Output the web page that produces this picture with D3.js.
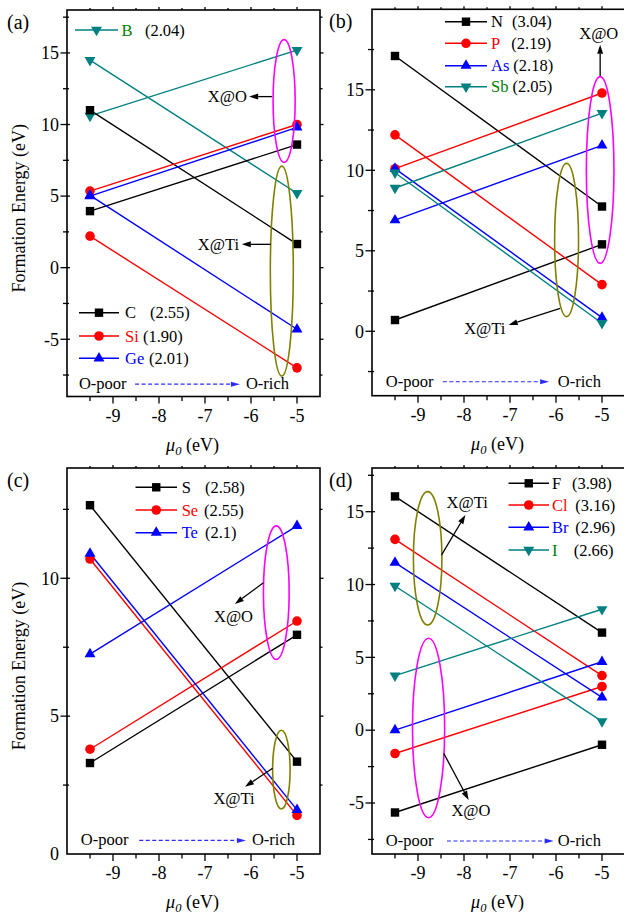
<!DOCTYPE html>
<html><head><meta charset="utf-8">
<script src="https://cdn.jsdelivr.net/npm/d3@7"></script>
<style>
html,body{margin:0;padding:0;background:#fff;}
</style></head>
<body><svg id="chart" width="624" height="915" font-family="'Liberation Serif', 'Times New Roman', Tinos, 'DejaVu Serif', serif"></svg>
<script>
// ---------------- DATA ----------------
const xPoints = [-9.5, -5];
const xTicks = [-9, -8, -7, -6, -5];

// panel (a)
const aNames = ["B", "C", "Si", "Ge"];
const aEN = ["(2.04)", "(2.55)", "(1.90)", "(2.01)"];
const aTi = [[14.5, 5.2], [11.0, 1.65], [2.2, -7.0], [5.05, -4.3]];
const aO  = [[10.6, 15.2], [3.95, 8.6], [5.35, 10.0], [5.0, 9.8]];
const aYTicks = [-5, 0, 5, 10, 15];

// panel (b)
const bNames = ["N", "P", "As", "Sb"];
const bEN = ["(3.04)", "(2.19)", "(2.18)", "(2.05)"];
const bTi = [[17.1, 7.75], [12.2, 2.9], [10.1, 0.85], [9.85, 0.5]];
const bO  = [[0.7, 5.4], [10.1, 14.8], [6.9, 11.55], [8.9, 13.55]];
const bYTicks = [0, 5, 10, 15];

// panel (c)
const cNames = ["S", "Se", "Te"];
const cEN = ["(2.58)", "(2.55)", "(2.1)"];
const cTi = [[12.65, 3.35], [10.7, 1.4], [10.9, 1.6]];
const cO  = [[3.3, 7.95], [3.8, 8.45], [7.25, 11.9]];
const cYTicks = [0, 5, 10];

// panel (d)
const dNames = ["F", "Cl", "Br", "I"];
const dEN = ["(3.98)", "(3.16)", "(2.96)", "(2.66)"];
const dTi = [[16.05, 6.7], [13.1, 3.75], [11.5, 2.25], [9.9, 0.6]];
const dO  = [[-5.65, -1.0], [-1.6, 3.0], [0.0, 4.7], [3.75, 8.3]];
const dYTicks = [-5, 0, 5, 10, 15];

// ---------------- STYLE ----------------
const lineColors = {black:"#000000", red:"#ff0000", blue:"#0000ff", teal:"#008080"};
const nameColors = {black:"#000000", red:"#ff0000", blue:"#0000ff", teal:"#008000"};
const TICK_FS = 18, TITLE_FS = 18, LEG_FS = 16.5, ANN_FS = 16.5;

const svg = d3.select("#chart");

function marker(g, type, x, y, color) {
  if (type === "square") {
    g.append("rect").attr("x", x - 4.2).attr("y", y - 4.2).attr("width", 8.4).attr("height", 8.4).attr("fill", color);
  } else if (type === "circle") {
    g.append("circle").attr("cx", x).attr("cy", y).attr("r", 4.8).attr("fill", color);
  } else {
    const sym = d3.symbol().type(d3.symbolTriangle).size(52);
    g.append("path").attr("d", sym())
      .attr("transform", `translate(${x},${y})` + (type === "down" ? " rotate(180)" : ""))
      .attr("fill", color);
  }
}

function arrow(g, x1, y1, x2, y2, color, dashed, hl, hw) {
  const ang = Math.atan2(y2 - y1, x2 - x1);
  const bx = x2 - hl * Math.cos(ang), by = y2 - hl * Math.sin(ang);
  g.append("line").attr("x1", x1).attr("y1", y1).attr("x2", bx).attr("y2", by)
    .attr("stroke", color).attr("stroke-width", dashed ? 1.2 : 1.3)
    .attr("stroke-dasharray", dashed ? "4,2.5" : null);
  const px = -Math.sin(ang) * hw / 2, py = Math.cos(ang) * hw / 2;
  g.append("path").attr("d", `M${x2},${y2}L${bx + px},${by + py}L${bx - px},${by - py}Z`).attr("fill", color);
}

const panels = [
  {label:"(a)", labelX:7, L:67, T:10, R:320, B:396.5, yDom:[-9, 18], yTicks:aYTicks, yTitle:true,
   names:aNames, en:aEN, ti:aTi, o:aO,
   colors:["teal","black","red","blue"], markers:["down","square","circle","up"],
   legends:[
     {rows:[0], x1:75, x2:118, nameX:121.5, numX:[145], y:[30]},
     {rows:[1,2,3], x1:79, x2:119, nameX:125, numX:[150,143,149], y:[312.7,336,358.3]}
   ],
   ellipses:[{c:"#ff00ff", cx:-5.28, cy:11.64, rx:0.24, ry:4.29},{c:"#808000", cx:-5.33, cy:-0.24, rx:0.25, ry:7.33}],
   arrows:[{x1:-5.54,y1:11.95,x2:-6.04,y2:11.95},{x1:-5.57,y1:1.63,x2:-6.2,y2:1.63}],
   texts:[{t:"X@O", x:-6.09, y:11.95, a:"end"},{t:"X@Ti", x:-6.26, y:1.63, a:"end"}],
   orich:{y:-8.07, p0:-9.74, a1:-8.52, a2:-6.24, r0:-6.11}},
  {label:"(b)", labelX:329, L:372, T:9.3, R:625, B:395.7, yDom:[-4, 20], yTicks:bYTicks, yTitle:false,
   names:bNames, en:bEN, ti:bTi, o:bO,
   colors:["black","red","blue","teal"], markers:["square","circle","up","down"],
   legends:[{rows:[0,1,2,3], x1:445, x2:487, nameX:491, numX:[512,511.3,512,512], y:[21.7,43.3,65.7,86.7]}],
   ellipses:[{c:"#ff00ff", cx:-5.04, cy:10.02, rx:0.3, ry:5.8},{c:"#808000", cx:-5.77, cy:5.67, rx:0.26, ry:4.76}],
   arrows:[{x1:-5.04,y1:15.86,x2:-5.04,y2:17.8},{x1:-5.91,y1:1.43,x2:-7.03,y2:0.39}],
   texts:[{t:"X@O", x:-5.07, y:18.53, a:"middle"},{t:"X@Ti", x:-7.1, y:0.19, a:"end"}],
   orich:{y:-3.07, p0:-9.7, a1:-8.46, a2:-6.15, r0:-5.96}},
  {label:"(c)", labelX:7, L:67, T:468, R:320, B:854, yDom:[0, 14], yTicks:cYTicks, yTitle:true,
   names:cNames, en:cEN, ti:cTi, o:cO,
   colors:["black","red","blue"], markers:["square","circle","up"],
   legends:[{rows:[0,1,2], x1:135.5, x2:177, nameX:181.7, numX:[205,204,205], y:[487.3,510,532.7]}],
   ellipses:[{c:"#ff00ff", cx:-5.45, cy:9.48, rx:0.28, ry:2.42},{c:"#808000", cx:-5.34, cy:3.06, rx:0.19, ry:1.43}],
   arrows:[{x1:-5.73,y1:9.84,x2:-6.35,y2:9.07},{x1:-5.53,y1:3.11,x2:-6.13,y2:2.44}],
   texts:[{t:"X@O", x:-6.38, y:8.63, a:"middle"},{t:"X@Ti", x:-6.37, y:2.02, a:"middle"}],
   orich:{y:0.53, p0:-9.70, a1:-8.43, a2:-6.11, r0:-5.98}},
  {label:"(d)", labelX:329, L:372, T:468, R:625, B:854, yDom:[-8.5, 18], yTicks:dYTicks, yTitle:false,
   names:dNames, en:dEN, ti:dTi, o:dO,
   colors:["black","red","blue","teal"], markers:["square","circle","up","down"],
   legends:[{rows:[0,1,2,3], x1:508.5, x2:549, nameX:552, numX:[572,575.3,575.3,573.7], y:[483.3,505,527.3,550]}],
   ellipses:[{c:"#808000", cx:-8.79, cy:11.8, rx:0.31, ry:4.58},{c:"#ff00ff", cx:-8.77, cy:0.15, rx:0.35, ry:6.16}],
   arrows:[{x1:-8.49,y1:12.02,x2:-7.97,y2:14.77},{x1:-8.44,y1:-1.59,x2:-7.9,y2:-4.79}],
   texts:[{t:"X@Ti", x:-7.93, y:15.68, a:"middle"},{t:"X@O", x:-7.85, y:-5.48, a:"middle"}],
   orich:{y:-7.54, p0:-9.7, a1:-8.37, a2:-6.05, r0:-5.96}}
];

panels.forEach(p => {
  const g = svg.append("g");
  const x = d3.scaleLinear().domain([-10, -4.5]).range([p.L, p.R]);
  const y = d3.scaleLinear().domain(p.yDom).range([p.B, p.T]);

  const xMinor = d3.range(-10, -4.49, 0.5);
  const yMinor = d3.range(Math.ceil(p.yDom[0] / 2.5) * 2.5, p.yDom[1] + 0.01, 2.5);

  xMinor.forEach(v => {
    const major = Number.isInteger(v);
    if (v <= -10 || v >= -4.5) return;
    g.append("line").attr("x1", x(v)).attr("x2", x(v)).attr("y1", p.B).attr("y2", p.B + (major ? 7 : 4.5))
      .attr("stroke", "#000").attr("stroke-width", 1.3);
    g.append("line").attr("x1", x(v)).attr("x2", x(v)).attr("y1", p.T).attr("y2", p.T - (major ? 3 : 2))
      .attr("stroke", "#000").attr("stroke-width", 1.3);
  });
  yMinor.forEach(v => {
    if (v <= p.yDom[0] || v >= p.yDom[1]) return;
    const major = Math.abs(v % 5) < 1e-9;
    g.append("line").attr("y1", y(v)).attr("y2", y(v)).attr("x1", p.L - (major ? 6.5 : 4)).attr("x2", p.L + (major ? 3 : 2))
      .attr("stroke", "#000").attr("stroke-width", 1.3);
    g.append("line").attr("y1", y(v)).attr("y2", y(v)).attr("x1", p.R).attr("x2", p.R + (major ? 3.5 : 2.5))
      .attr("stroke", "#000").attr("stroke-width", 1.3);
  });

  xTicks.forEach(v => {
    g.append("text").attr("x", x(v)).attr("y", p.B + 25).attr("text-anchor", "middle")
      .attr("font-size", TICK_FS).text(String(v).replace("\u2212", "-"));
  });
  p.yTicks.forEach(v => {
    g.append("text").attr("x", p.L - 8).attr("y", y(v)).attr("dy", "0.35em").attr("text-anchor", "end")
      .attr("font-size", TICK_FS).text(String(v));
  });

  const xt = g.append("text").attr("x", (p.L + p.R) / 2 - 1).attr("y", p.B + 54).attr("text-anchor", "middle").attr("font-size", TITLE_FS);
  xt.append("tspan").attr("font-style", "italic").text("\u03bc");
  xt.append("tspan").attr("font-style", "italic").attr("font-size", 12.5).attr("dy", 4).text("0");
  xt.append("tspan").attr("dy", -4).text(" (eV)");
  if (p.yTitle) {
    g.append("text").attr("transform", `translate(25,${(p.T + p.B) / 2 + 5}) rotate(-90)`)
      .attr("text-anchor", "middle").attr("font-size", TITLE_FS).text("Formation Energy (eV)");
  }

  g.append("text").attr("x", p.labelX).attr("y", p.T + 19).attr("font-size", 20).text(p.label);

  p.names.forEach((n, i) => {
    const col = lineColors[p.colors[i]];
    [p.ti[i], p.o[i]].forEach(vals => {
      g.append("line").attr("x1", x(xPoints[0])).attr("y1", y(vals[0])).attr("x2", x(xPoints[1])).attr("y2", y(vals[1]))
        .attr("stroke", col).attr("stroke-width", 1.4);
    });
  });
  p.names.forEach((n, i) => {
    const col = lineColors[p.colors[i]];
    [p.ti[i], p.o[i]].forEach(vals => {
      vals.forEach((v, k) => marker(g, p.markers[i], x(xPoints[k]), y(v), col));
    });
  });

  p.legends.forEach(lg => {
    lg.rows.forEach((ri, k) => {
      const col = lineColors[p.colors[ri]];
      const yy = lg.y[k];
      g.append("line").attr("x1", lg.x1).attr("x2", lg.x2).attr("y1", yy).attr("y2", yy).attr("stroke", col).attr("stroke-width", 1.4);
      marker(g, p.markers[ri], (lg.x1 + lg.x2) / 2, yy, col);
      const nt = g.append("text").attr("x", lg.nameX).attr("y", yy).attr("dy", "0.35em").attr("font-size", LEG_FS)
        .attr("fill", nameColors[p.colors[ri]]).text(p.names[ri]);
      const nameEnd = lg.nameX + nt.node().getComputedTextLength() + 4;
      g.append("text").attr("x", Math.max(lg.numX[k], nameEnd)).attr("y", yy).attr("dy", "0.35em").attr("font-size", LEG_FS)
        .attr("fill", "#000").text(p.en[ri]);
    });
  });

  p.ellipses.forEach(e => {
    g.append("ellipse").attr("cx", x(e.cx)).attr("cy", y(e.cy))
      .attr("rx", Math.abs(x(e.cx + e.rx) - x(e.cx))).attr("ry", Math.abs(y(e.cy + e.ry) - y(e.cy)))
      .attr("fill", "none").attr("stroke", e.c).attr("stroke-width", 1.6);
  });
  p.arrows.forEach(a => arrow(g, x(a.x1), y(a.y1), x(a.x2), y(a.y2), "#000", false, 9, 6));
  p.texts.forEach(t => {
    g.append("text").attr("x", x(t.x)).attr("y", y(t.y)).attr("dy", "0.35em").attr("text-anchor", t.a)
      .attr("font-size", ANN_FS).text(t.t);
  });

  const oy = y(p.orich.y);
  g.append("text").attr("x", x(p.orich.p0)).attr("y", oy).attr("dy", "0.35em").attr("font-size", ANN_FS).text("O-poor");
  arrow(g, x(p.orich.a1), oy + 1, x(p.orich.a2), oy + 1, "#2b2bff", true, 9, 5);
  g.append("text").attr("x", x(p.orich.r0)).attr("y", oy).attr("dy", "0.35em").attr("font-size", ANN_FS).text("O-rich");

  g.append("rect").attr("x", p.L).attr("y", p.T).attr("width", p.R - p.L).attr("height", p.B - p.T)
    .attr("fill", "none").attr("stroke", "#000").attr("stroke-width", 1.6);
});
</script></body></html>
